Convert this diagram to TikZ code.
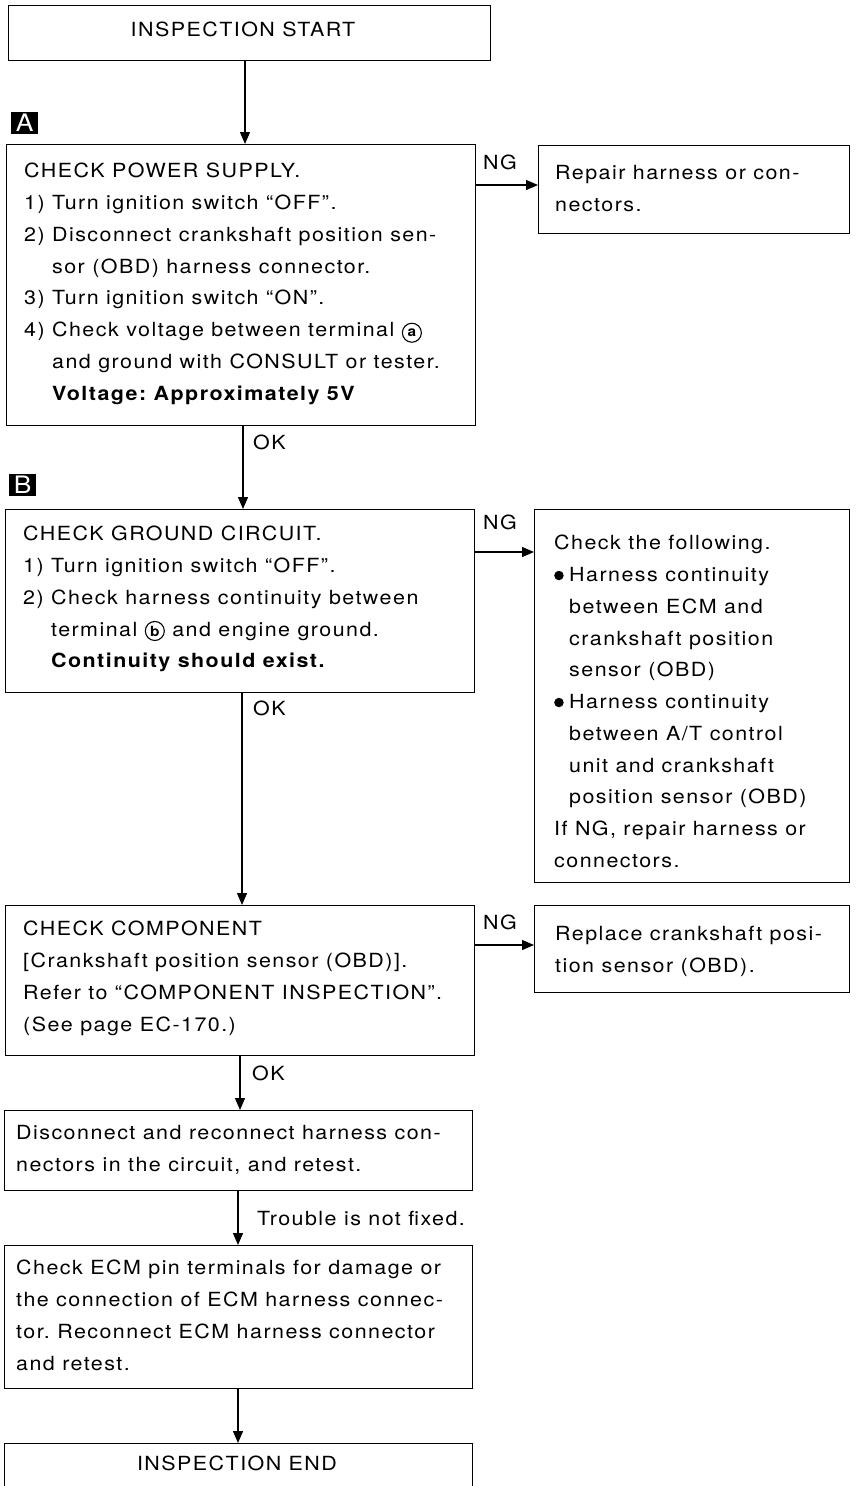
\documentclass[tikz,border=0pt]{standalone}
\usepackage{fontspec}
\setmainfont{TeX Gyre Heros}[LetterSpace=7.5,FakeStretch=1.1]
\frenchspacing
\usetikzlibrary{arrows.meta}
\newcommand{\bodyfont}{\fontsize{19.5}{31.75}\selectfont}
\newcommand{\bul}{\makebox[15pt][l]{\tikz[baseline={([yshift=-6pt]bd.center)}]\node[circle,fill=black,inner sep=0pt,minimum size=9.5pt] (bd) at (0,0) {};}}
\newcommand{\bulind}{\hspace*{15pt}}
\newcommand{\numind}{\hphantom{2) }}
\newcommand{\circa}[1]{\tikz[baseline=(ca.base)]\node[circle,draw,line width=1.1pt,inner sep=0pt,minimum size=19pt,font=\bfseries\fontsize{14}{14}\selectfont] (ca) at (0,0) {#1};}
\tikzset{
  box/.style={draw, line width=1.3pt, inner sep=0pt, anchor=north west},
  txt/.style={anchor=north west, inner sep=0pt, align=left, font=\bodyfont},
  lbl/.style={inner sep=0pt, font=\bodyfont},
  arr/.style={line width=1.3pt, -{Triangle[length=12pt,width=10pt]}},
  tag/.style={fill=black, text=white, inner sep=0pt, minimum width=27pt, minimum height=22pt, anchor=north west, font=\fontsize{24}{24}\selectfont}
}
\begin{document}
\begin{tikzpicture}[x=1pt,y=-1pt]
\useasboundingbox (0,0) rectangle (856,1486);
\clip (0,0) rectangle (856,1486);
% column coordinates
\coordinate (x1) at (245,0);
\coordinate (x2) at (243,0);
\coordinate (x3) at (242,0);
\coordinate (x4) at (240,0);
\coordinate (x5) at (238,0);
\coordinate (y1) at (0,185);
\coordinate (y2) at (0,552);
\coordinate (y3) at (0,945);
% boxes
\node[box, minimum width=482pt, minimum height=55pt] (start) at (8,5) {};
\node[box, minimum width=469pt, minimum height=281pt] (A) at (6,144) {};
\node[box, minimum width=311pt, minimum height=88pt] (R) at (538,145) {};
\node[box, minimum width=469pt, minimum height=183pt] (B) at (5,509) {};
\node[box, minimum width=315pt, minimum height=373pt] (C) at (534,509) {};
\node[box, minimum width=469pt, minimum height=150pt] (K) at (5,905) {};
\node[box, minimum width=315pt, minimum height=87pt] (P) at (534,905) {};
\node[box, minimum width=468pt, minimum height=80pt] (D) at (4,1110) {};
\node[box, minimum width=468pt, minimum height=143pt] (E) at (4,1245) {};
\node[box, minimum width=468pt, minimum height=80pt] (F) at (4,1443) {};
% tags
\node[tag] (tagA) at (11,112) {A};
\node[tag] (tagB) at (9,474) {B};
% texts
\node[lbl] (tstart) at (243,29) {INSPECTION START};
\node[lbl] (tend) at (237,1463) {INSPECTION END};
\node[txt] (tA) at (24,163) {CHECK POWER SUPPLY.\\
1) Turn ignition switch ``OFF''.\\
2) Disconnect crankshaft position sen-\\
\numind sor (OBD) harness connector.\\
3) Turn ignition switch ``ON''.\\
4) Check voltage between terminal \circa{a}\\
\numind and ground with CONSULT or tester.\\
\numind\textbf{Voltage: Approximately 5V}};
\node[txt] (tR) at (555,165) {Repair harness or con-\\nectors.};
\node[txt] (tB) at (23,526) {CHECK GROUND CIRCUIT.\\
1) Turn ignition switch ``OFF''.\\
2) Check harness continuity between\\
\numind terminal \circa{b} and engine ground.\\
\numind\textbf{Continuity should exist.}};
\node[txt] (tC) at (554,535) {Check the following.\\
\bul Harness continuity\\
\bulind between ECM and\\
\bulind crankshaft position\\
\bulind sensor (OBD)\\
\bul Harness continuity\\
\bulind between A/T control\\
\bulind unit and crankshaft\\
\bulind position sensor (OBD)\\
If NG, repair harness or\\
connectors.};
\node[txt] (tK) at (23,921) {CHECK COMPONENT\\
{[}Crankshaft position sensor (OBD){]}.\\
Refer to ``COMPONENT INSPECTION''.\\
(See page EC-170.)};
\node[txt] (tP) at (555,926) {Replace crankshaft posi-\\tion sensor (OBD).};
\node[txt] (tD) at (16,1125) {Disconnect and reconnect harness con-\\nectors in the circuit, and retest.};
\node[txt] (tE) at (16,1260) {Check ECM pin terminals for damage or\\
the connection of ECM harness connec-\\
tor. Reconnect ECM harness connector\\
and retest.};
% labels
\node[lbl] (ng1) at (500,162) {NG};
\node[lbl] (ng2) at (500,522) {NG};
\node[lbl] (ng3) at (500,922) {NG};
\node[lbl, anchor=west] (ok1) at (253,442) {OK};
\node[lbl, anchor=west] (ok2) at (253,708) {OK};
\node[lbl, anchor=west] (ok3) at (252,1073) {OK};
\node[lbl, anchor=west] (tnf) at (257,1218) {Trouble is not fixed.};
% connectors
\draw[arr] (start.south -| x1) -- (A.north -| x1);
\draw[arr] (A.south -| x2) -- (B.north -| x2);
\draw[arr] (B.south -| x3) -- (K.north -| x3);
\draw[arr] (K.south -| x4) -- (D.north -| x4);
\draw[arr] (D.south -| x5) -- (E.north -| x5);
\draw[arr] (E.south -| x5) -- (F.north -| x5);
\draw[arr] (A.east |- y1) -- (R.west |- y1);
\draw[arr] (B.east |- y2) -- (C.west |- y2);
\draw[arr] (K.east |- y3) -- (P.west |- y3);
\end{tikzpicture}
\end{document}
